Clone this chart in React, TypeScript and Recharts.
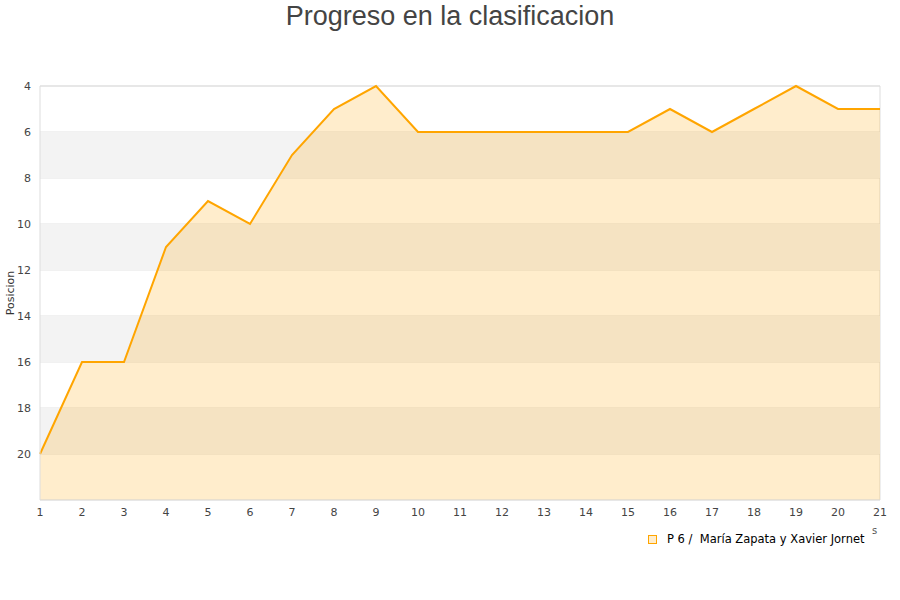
import React from 'react';
import { ComposedChart, Area, XAxis, YAxis, CartesianGrid, ReferenceArea } from 'recharts';

const jornadas = [1, 2, 3, 4, 5, 6, 7, 8, 9, 10, 11, 12, 13, 14, 15, 16, 17, 18, 19, 20, 21];
const posiciones = [20, 16, 16, 11, 9, 10, 7, 5, 4, 6, 6, 6, 6, 6, 6, 5, 6, 5, 4, 5, 5];
const yTicks = [4, 6, 8, 10, 12, 14, 16, 18, 20];
const bands = [[6, 8], [10, 12], [14, 16], [18, 20]];
const serieName = 'P 6 /  María Zapata y Xavier Jornet';

const data = jornadas.map((j, i) => ({ jornada: j, pos: posiciones[i] }));

const tickStyle = { fontSize: 11, fill: '#444', fontFamily: 'DejaVu Sans' };

export default function App() {
  return (
    <div style={{ position: 'absolute', left: 0, top: 0, width: 900, height: 600, background: '#fff' }}>
      <div style={{
        position: 'absolute', left: 0, top: 0, width: 900, textAlign: 'center',
        fontFamily: 'Liberation Sans', fontSize: 27, color: '#444', lineHeight: '32px',
      }}>
        Progreso en la clasificacion
      </div>
      <ComposedChart width={900} height={600} data={data} margin={{ top: 86, right: 20, bottom: 0, left: 0 }}>
        {bands.map(([a, b]) => (
          <ReferenceArea key={a} y1={a} y2={b} fill="#f3f3f3" fillOpacity={1} stroke="none" ifOverflow="visible" />
        ))}
        <CartesianGrid vertical={false} stroke="#e3e3e3" />
        <XAxis
          dataKey="jornada"
          type="number"
          domain={[1, 21]}
          ticks={jornadas}
          tickSize={0}
          tickMargin={8}
          height={100}
          axisLine={{ stroke: '#ddd' }}
          tick={tickStyle}
          interval={0}
        />
        <YAxis
          reversed
          type="number"
          domain={[4, 22]}
          ticks={yTicks}
          width={40}
          tickSize={0}
          tickMargin={9}
          axisLine={{ stroke: '#ddd' }}
          tick={tickStyle}
        />
        <Area
          type="linear"
          dataKey="pos"
          baseValue={22}
          stroke="#ffa500"
          strokeWidth={2}
          fill="#ffa500"
          fillOpacity={0.2}
          dot={false}
          activeDot={false}
          isAnimationActive={false}
        />
        <line x1={40} y1={86} x2={880} y2={86} stroke="#ddd" />
        <line x1={880} y1={86} x2={880} y2={500} stroke="#ddd" />
      </ComposedChart>
      <div style={{
        position: 'absolute', left: 10, top: 293, transform: 'translate(-50%, -50%) rotate(-90deg)',
        fontFamily: 'DejaVu Sans', fontSize: 11, color: '#333', whiteSpace: 'nowrap',
      }}>
        Posicion
      </div>
      <div style={{
        position: 'absolute', left: 648, top: 532, display: 'flex', alignItems: 'center',
        fontFamily: 'DejaVu Sans', fontSize: 11.5, color: '#000', whiteSpace: 'pre',
      }}>
        <span style={{ display: 'inline-block', width: 7, height: 7, background: '#ffedcc', border: '1px solid #ffa500', marginRight: 10 }} />
        {serieName}
      </div>
      <div style={{ position: 'absolute', left: 872, top: 525, fontFamily: 'DejaVu Sans', fontSize: 10, color: '#555' }}>s</div>
    </div>
  );
}
